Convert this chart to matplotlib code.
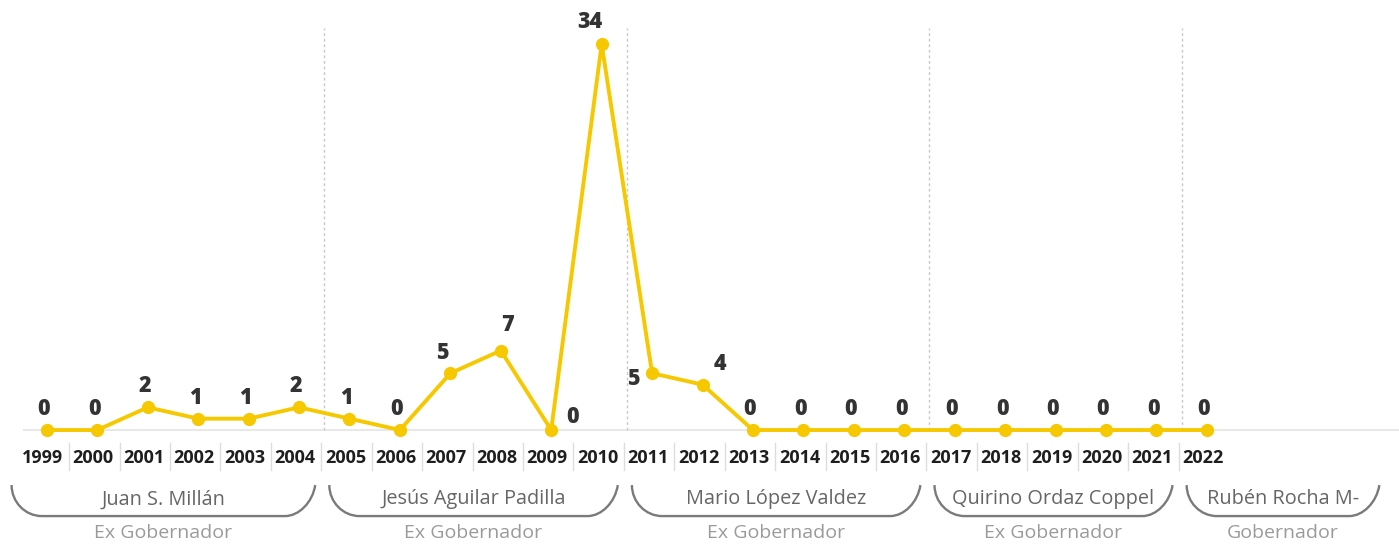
import matplotlib.pyplot as plt
from matplotlib.path import Path
from matplotlib.patches import PathPatch

plt.rcParams['font.family'] = ['Open Sans', 'DejaVu Sans']

# datos
years = list(range(1999, 2023))
values = [0, 0, 2, 1, 1, 2, 1, 0, 5, 7, 0, 34, 5, 4, 0, 0, 0, 0, 0, 0, 0, 0, 0, 0]
gobernadores = ['Juan S. Millán', 'Jesús Aguilar Padilla', 'Mario López Valdez',
                'Quirino Ordaz Coppel', 'Rubén Rocha M-']
cargos = ['Ex Gobernador', 'Ex Gobernador', 'Ex Gobernador', 'Ex Gobernador', 'Gobernador']
periodos = [(1999, 2004), (2005, 2010), (2011, 2016), (2017, 2021), (2022, 2022)]

amarillo = '#F6C800'

fig = plt.figure(figsize=(13.99, 5.44), dpi=100)
ax = fig.add_axes([0, 0, 1, 1])
ax.set_xlim(1998.07, 2025.81)
ax.set_ylim(-10.04, 37.88)
ax.axis('off')

# linea base
ax.plot([1998.54, 2025.81], [0, 0], color='#e8e8e8', lw=1.5, zorder=1)

# separadores entre periodos
limites = [periodos[i][1] + 0.5 for i in range(len(periodos) - 1)]
for xl in limites:
    ax.plot([xl, xl], [0, 35.4], color='#c8c8c8', lw=1, ls=(0, (2, 2)), zorder=1)

# serie
ax.plot(years, values, color=amarillo, lw=2.8, marker='o', ms=8.5, zorder=3)

# etiquetas de valor
offsets = {2009: (21, 13), 2010: (-12, 22), 2011: (-19, -6), 2012: (17, 21),
           2008: (7, 26), 2007: (-8, 20)}
for y, v in zip(years, values):
    dx, dy = offsets.get(y, (-3, 21))
    ax.annotate(str(v), (y, v), xytext=(dx, dy), textcoords='offset pixels',
                ha='center', va='center', fontsize=15.5, fontweight='heavy', color='#333333')

# años
for y in years:
    ax.text(y - 0.08, -2.5, str(y), ha='center', va='center', fontsize=13,
            fontweight='bold', color='#1e1e1e')
    if y < years[-1]:
        ax.plot([y + 0.44, y + 0.44], [-1.15, -3.52], color='#dddddd', lw=1)

# llaves de cada gobernador
seps = [1998.2] + limites + [2025.6]
top, bottom = -4.85, -7.58
h = top - bottom
r = 0.6
k = 0.55
for i, nombre in enumerate(gobernadores):
    x0 = seps[i] + 0.1
    x1 = seps[i + 1] - 0.18
    verts = [(x0, top), (x0, bottom + h * (1 - k)), (x0 + r * (1 - k), bottom), (x0 + r, bottom),
             (x1 - r, bottom),
             (x1 - r * (1 - k) - 0.05, bottom), (x1 - 0.05, bottom + h * (1 - k)), (x1, top)]
    codes = [Path.MOVETO, Path.CURVE4, Path.CURVE4, Path.CURVE4,
             Path.LINETO,
             Path.CURVE4, Path.CURVE4, Path.CURVE4]
    ax.add_patch(PathPatch(Path(verts, codes), fill=False, edgecolor='#7a7a7a', lw=1.7))
    xc = (x0 + x1) / 2
    ax.text(xc, -6.1, nombre, ha='center', va='center', fontsize=14.3, color='#666666')
    ax.text(xc, -9.07, cargos[i], ha='center', va='center', fontsize=14, color='#9a9a9a')

fig.savefig('out.png', dpi=100)
